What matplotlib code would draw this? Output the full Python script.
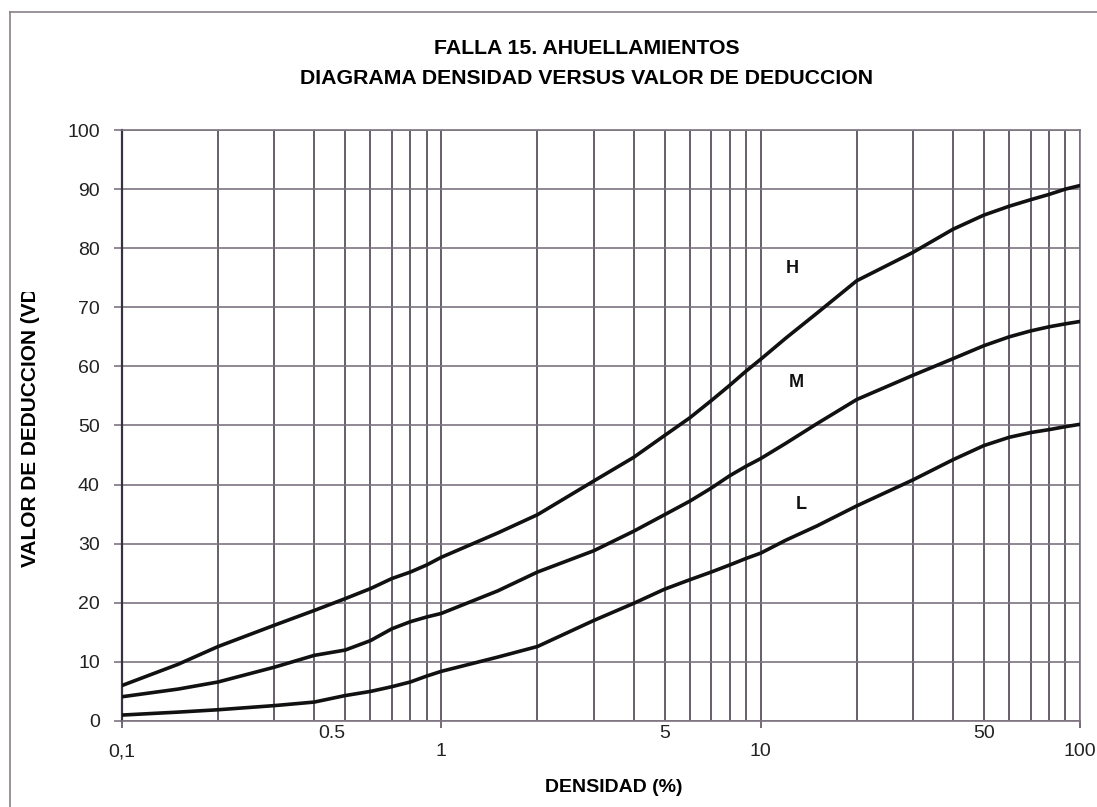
import numpy as np
import matplotlib
matplotlib.use("Agg")
import matplotlib.pyplot as plt
from matplotlib.ticker import FixedLocator, NullFormatter, LogLocator
from matplotlib.transforms import offset_copy

# ----------------------------------------------------------------------
# DATA
# ----------------------------------------------------------------------
densidad = [0.1, 0.15, 0.2, 0.3, 0.4, 0.5, 0.6, 0.7, 0.8, 0.9, 1, 1.5, 2, 3, 4,
            5, 6, 7, 8, 9, 10, 12, 15, 20, 30, 40, 50, 60, 70, 80, 90, 100]

vd_high = [6.0, 9.6, 12.6, 16.2, 18.7, 20.7, 22.4, 24.1, 25.2, 26.4, 27.7, 31.8,
           34.9, 40.6, 44.6, 48.3, 51.3, 54.2, 56.8, 59.2, 61.2, 64.8, 69.0,
           74.5, 79.3, 83.2, 85.6, 87.1, 88.2, 89.1, 90.0, 90.6]

vd_medium = [4.1, 5.4, 6.6, 9.1, 11.1, 12.0, 13.6, 15.6, 16.8, 17.6, 18.2, 22.0,
             25.2, 28.8, 32.1, 34.9, 37.2, 39.4, 41.5, 43.1, 44.4, 47.0, 50.3,
             54.4, 58.5, 61.3, 63.5, 65.0, 66.0, 66.7, 67.2, 67.6]

vd_low = [1.0, 1.5, 1.9, 2.6, 3.2, 4.3, 5.0, 5.8, 6.6, 7.6, 8.4, 10.8,
          12.6, 17.0, 19.9, 22.3, 23.9, 25.2, 26.4, 27.5, 28.4, 30.6, 33.0,
          36.4, 40.8, 44.2, 46.6, 48.0, 48.8, 49.3, 49.8, 50.2]

curve_labels = ["H", "M", "L"]
label_pos = [(12.6, 76.5), (12.9, 57.2), (13.4, 36.6)]

x_major = [0.1, 1, 10, 100]
x_major_text = ["0,1", "1", "10", "100"]
x_extra = [0.5, 5, 50]
x_extra_text = ["0.5", "5", "50"]
y_ticks = list(range(0, 101, 10))

TITLE1 = "FALLA 15. AHUELLAMIENTOS"
TITLE2 = "DIAGRAMA DENSIDAD VERSUS VALOR DE DEDUCCION"

# ----------------------------------------------------------------------
# FIGURE
# ----------------------------------------------------------------------
plt.rcParams["font.family"] = ["Liberation Sans", "DejaVu Sans"]

fig = plt.figure(figsize=(10.97, 8.07), dpi=100)
ax = fig.add_axes([0.1112, 0.1066, 0.9845 - 0.1112, 0.8389 - 0.1066])

ax.set_xscale("log")
ax.set_xlim(0.1, 100)
ax.set_ylim(0, 100)

# grid: horizontal lighter, vertical darker
vcol = "#5c5260"
hcol = "#7d7480"
ax.xaxis.set_major_locator(FixedLocator(x_major))
ax.xaxis.set_minor_locator(LogLocator(base=10, subs=np.arange(2, 10)))
ax.xaxis.set_minor_formatter(NullFormatter())
ax.set_xticklabels(x_major_text)
ax.set_yticks(y_ticks)
ax.grid(True, which="both", axis="x", color=vcol, lw=1.3)
ax.grid(True, which="major", axis="y", color=hcol, lw=1.2)
ax.set_axisbelow(True)

ax.tick_params(axis="x", which="major", length=5, width=1.2, color=vcol,
               pad=11, labelsize=14, labelcolor="#222222")
ax.tick_params(axis="x", which="minor", length=0)
ax.tick_params(axis="y", length=6, width=1.2, color=hcol, pad=10, labelsize=14,
               labelcolor="#222222")

for side in ["top", "right", "bottom"]:
    ax.spines[side].set_color(hcol)
    ax.spines[side].set_linewidth(1.2)
ax.spines["left"].set_color("#3a3040")
ax.spines["left"].set_linewidth(1.6)

# curves
for vals in (vd_high, vd_medium, vd_low):
    ax.plot(densidad, vals, color="#111111", lw=2.6, solid_capstyle="round",
            zorder=3)

for lab, (lx, ly) in zip(curve_labels, label_pos):
    ax.text(lx, ly, lab, fontsize=13, fontweight="bold", ha="center",
            va="center", color="#111111")

# extra tick labels sitting just under the axis
trans = offset_copy(ax.get_xaxis_transform(), fig=fig, x=0, y=-13, units="dots")
for xv, txt in zip(x_extra, x_extra_text):
    ax.text(xv, 0, txt, transform=trans, fontsize=14,
            ha="right" if xv < 1 else "center", va="center", color="#222222")

# titles and axis labels
fig.text(0.535, 1 - 49 / 807, TITLE1, ha="center", va="center", fontsize=15.3,
         fontweight="bold")
fig.text(0.535, 1 - 78 / 807, TITLE2, ha="center", va="center", fontsize=15.3,
         fontweight="bold")
fig.text(614 / 1097, 1 - 788 / 807, "DENSIDAD (%)", ha="center", va="center",
         fontsize=14, fontweight="bold")

ylab = fig.text(31 / 1097, 1 - 567 / 807, "VALOR DE DEDUCCION (VD)",
                rotation=90, ha="center", va="bottom", fontsize=15,
                fontweight="bold")
clip = plt.Rectangle((0, 0), 1, 1 - 292 / 807, transform=fig.transFigure,
                     fill=False, visible=False)
fig.add_artist(clip)
ylab.set_clip_path(clip)

# scanned page frame (left and top edges)
fig.add_artist(plt.Line2D([10 / 1097, 10 / 1097], [0, 1 - 12 / 807],
                          transform=fig.transFigure, color="#8a8088", lw=1.2))
fig.add_artist(plt.Line2D([10 / 1097, 1], [1 - 12 / 807, 1 - 12 / 807],
                          transform=fig.transFigure, color="#8a8088", lw=1.2))

fig.savefig("out.png", dpi=100)
